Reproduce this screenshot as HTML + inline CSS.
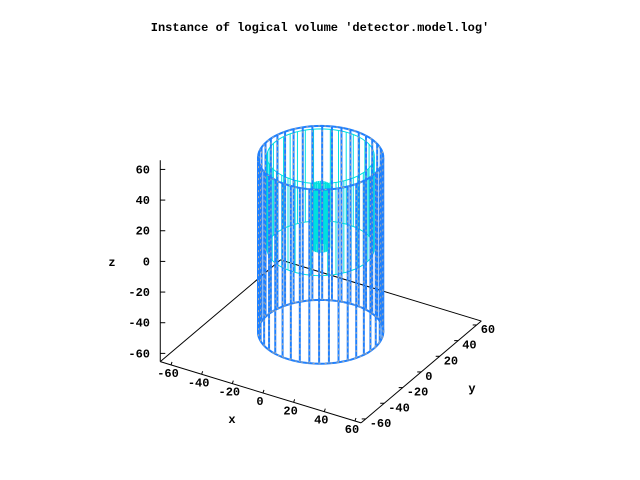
<!DOCTYPE html>
<html><head><meta charset="utf-8"><style>
html,body{margin:0;padding:0;background:#fff;}
svg{display:block;}
text{font-family:"Liberation Mono",monospace;font-weight:bold;font-size:12px;fill:#000;}
</style></head><body>
<svg id="chart" width="640" height="480" viewBox="0 0 640 480">
<rect width="640" height="480" fill="#fff"/>
<text x="320" y="31" text-anchor="middle">Instance of logical volume 'detector.model.log'</text>
<g id="axes"></g>
<g id="geom"></g>
</svg>
<script>
const xTicks=[-60,-40,-20,0,20,40,60];
const yTicks=[-60,-40,-20,0,20,40,60];
const zTicks=[-60,-40,-20,0,20,40,60];
const xRange=[-67,64];
const yRange=[-65,65];
const zRange=[-65.4,66];
// cylinders: [centerX, centerY, radius, zMin, zMax, segments]
const outerCyl=[-1,-1,35,-58.5,55,40];
const innerCyl=[-1,-1,30,-4,56,40];
const coreCyl=[-1,-1,5,-4,37,30];

const NS="http://www.w3.org/2000/svg";
function P(x,y,z){return [323.1+1.533*x+0.925*y, 241.8+0.467*x-0.783*y-1.533*z];}
const axes=document.getElementById('axes'), geom=document.getElementById('geom');
function line(g,a,b,stroke,w,dash){const l=document.createElementNS(NS,'line');
l.setAttribute('x1',a[0]);l.setAttribute('y1',a[1]);l.setAttribute('x2',b[0]);l.setAttribute('y2',b[1]);
l.setAttribute('stroke',stroke);l.setAttribute('stroke-width',w);if(dash)l.setAttribute('stroke-dasharray',dash);
g.appendChild(l);return l;}
function txt(g,x,y,s,anchor){const t=document.createElementNS(NS,'text');t.setAttribute('x',x);t.setAttribute('y',y);
t.setAttribute('text-anchor',anchor||'middle');t.textContent=s;g.appendChild(t);return t;}
const zb=zRange[0];
const c1=P(xRange[0],yRange[0],zb),c2=P(xRange[1],yRange[0],zb),c3=P(xRange[1],yRange[1],zb),c4=P(xRange[0],yRange[1],zb);
let e;
e=line(axes,c1,c2,'#000',1);


e=line(axes,c2,c3,'#000',1);


e=line(axes,c3,c4,'#000',1);


e=line(axes,c4,c1,'#000',1);


e=line(axes,c1,P(xRange[0],yRange[0],zRange[1]),'#000',1);


xTicks.forEach(v=>{const p=P(v,yRange[0],zb);
 e=line(axes,p,[p[0]+1,p[1]-3],'#000',1);
 
 
 e=txt(axes,p[0]-3,p[1]+12,String(v));
 
 });
yTicks.forEach(v=>{const p=P(xRange[1],v,zb);
 e=line(axes,p,[p[0]-4,p[1]],'#000',1);
 
 
 e=txt(axes,p[0]+4,p[1]+8,String(v),'start');
 
 });
zTicks.forEach(v=>{const p=P(xRange[0],yRange[0],v);
 e=line(axes,p,[p[0]+5,p[1]],'#000',1);
 
 
 e=txt(axes,150,p[1]+4,String(v),'end');
 
 });
e=txt(axes,232,423,'x');


e=txt(axes,472,392,'y');


e=txt(axes,112,266,'z');



function cyl(c,color,w,grey,name,rings){
 const g=document.createElementNS(NS,'g');
 
 
 geom.appendChild(g);
 const [cx,cy,r,z0,z1,n]=c;
 if(rings)[z0,z1].forEach(z=>{let d='';for(let i=0;i<=72;i++){const t=i/72*2*Math.PI;const p=P(cx+r*Math.cos(t),cy+r*Math.sin(t),z);d+=(i?'L':'M')+p[0].toFixed(1)+' '+p[1].toFixed(1);}
  const pa=document.createElementNS(NS,'path');pa.setAttribute('d',d);pa.setAttribute('fill','none');pa.setAttribute('stroke',color);pa.setAttribute('stroke-width',w);g.appendChild(pa);
  if(grey){const pb=pa.cloneNode();pb.setAttribute('stroke','#a8a8a8');pb.setAttribute('stroke-width',1);pb.setAttribute('stroke-dasharray','2 4');g.appendChild(pb);}});
 for(let i=0;i<n;i++){const t=(i+0.3)/n*2*Math.PI;const a=P(cx+r*Math.cos(t),cy+r*Math.sin(t),z0),b=P(cx+r*Math.cos(t),cy+r*Math.sin(t),z1);
  line(g,a,b,color,w);if(grey)line(g,a,b,'#a8a8a8',1,'2 4');}
}
cyl(innerCyl,'#00e0e0',1,false,'inner-cylinder',true);
cyl(coreCyl,'#00e0e0',1.5,false,'core-cylinder',false);
cyl(outerCyl,'#1e80ff',2,true,'outer-cylinder',true);
</script>
</body></html>
